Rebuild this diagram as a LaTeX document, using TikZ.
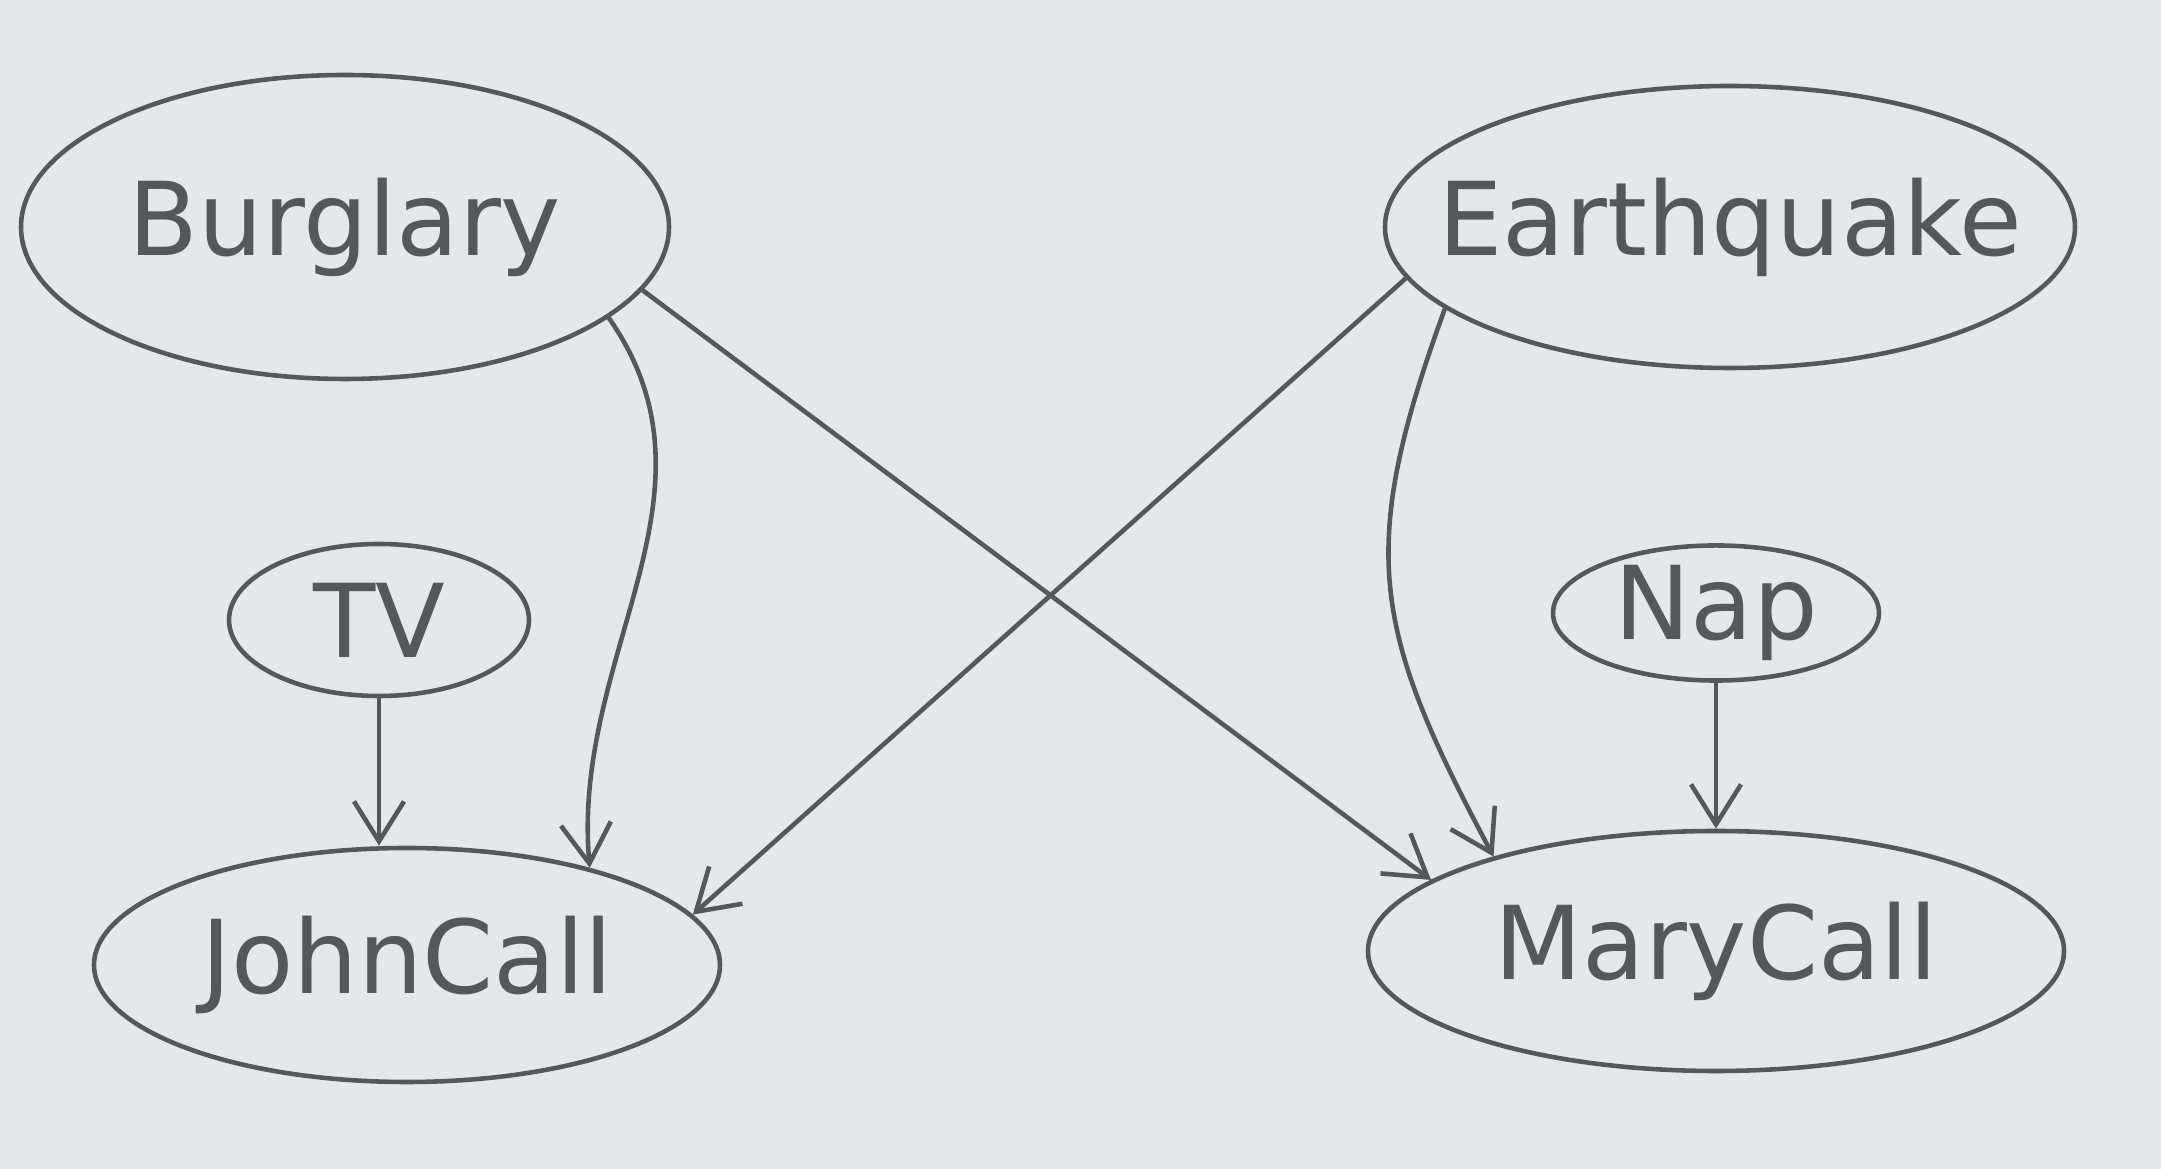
\documentclass[tikz,border=0pt]{standalone}
\usepackage{fontspec}
\setmainfont{DejaVu Sans}
\usetikzlibrary{arrows.meta,shapes.geometric}
\definecolor{paper}{RGB}{228,232,233}
\definecolor{pencil}{RGB}{84,88,90}
\newcommand\varlabel[1]{\makebox[0pt]{#1}}
\tikzset{
  var/.style={ellipse,draw=pencil,line width=1.3pt,inner sep=0pt,
    text=pencil,font=\fontsize{29}{34}\selectfont},
  arr/.style={draw=pencil,line width=1.3pt,
    -{Straight Barb[length=0.4cm,width=0.5cm,line width=1.3pt]}}
}
\begin{document}
\begin{tikzpicture}
% Canvas
\fill[paper] (0,0) rectangle (21.61,11.69);
\useasboundingbox (0,0) rectangle (21.61,11.69);

% Causes
\node[var,minimum width=6.48cm,minimum height=3.04cm] (bur) at (3.45,9.42) {\varlabel{Burglary}};
\node[var,minimum width=6.9cm,minimum height=2.82cm] (eq) at (17.30,9.42) {\varlabel{Earthquake}};

% Distractions
\node[var,minimum width=3.0cm,minimum height=1.52cm] (tv) at (3.79,5.49) {\varlabel{TV}};
\node[var,minimum width=3.26cm,minimum height=1.24cm] (nap) at (17.16,5.56) {\varlabel{Nap}};

% Calls
\node[var,minimum width=6.26cm,minimum height=2.34cm] (john) at (4.07,2.04) {\varlabel{JohnCall}};
\node[var,minimum width=6.96cm,minimum height=2.4cm] (mary) at (17.16,2.18) {\varlabel{MaryCall}};

% Edges
\draw[arr] (bur.-19) to[out=-55,in=95] (john.28);
\draw[arr] (bur.-12) -- (mary.166);
\draw[arr] (eq.189) -- (john.10);
\draw[arr] (eq.196) to[out=-110,in=118,looseness=1.2] (mary.157);
\draw[arr] (tv) -- (tv |- john.north);
\draw[arr] (nap) -- (nap |- mary.north);
\end{tikzpicture}
\end{document}
